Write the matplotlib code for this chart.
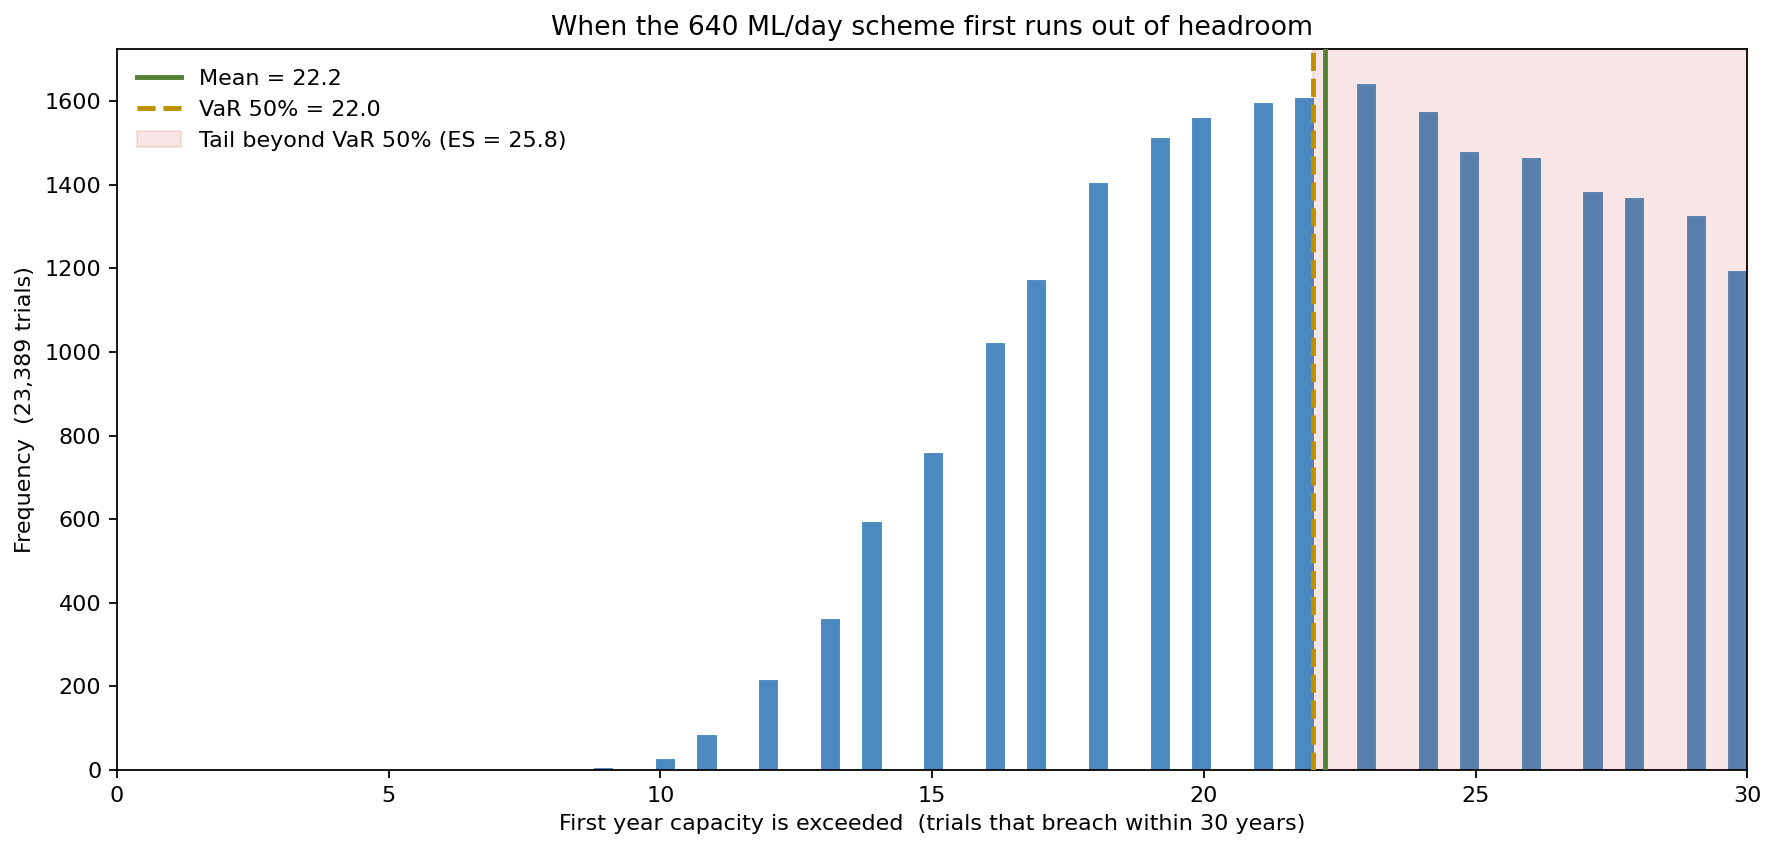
import numpy as np
import matplotlib
matplotlib.use("Agg")
import matplotlib.pyplot as plt

# first breach year (integer) and number of trials breaching in that year
years = [9, 10, 11, 12, 13, 14, 15, 16, 17, 18, 19, 20,
         21, 22, 23, 24, 25, 26, 27, 28, 29, 30]
counts = [7, 29, 85, 218, 364, 595, 760, 1023, 1175, 1406, 1513, 1561,
          1598, 1610, 1643, 1577, 1481, 1467, 1384, 1370, 1327, 1197]
n_trials = 23389
capacity = 640
horizon = 30

years_arr = np.array(years, dtype=float)
counts_arr = np.array(counts, dtype=float)

mean = np.sum(years_arr * counts_arr) / counts_arr.sum()
cum = np.cumsum(counts_arr) / counts_arr.sum()
var50 = years_arr[np.searchsorted(cum, 0.5)]
tail = years_arr >= var50
es = np.sum(years_arr[tail] * counts_arr[tail]) / counts_arr[tail].sum()

dpi = 160
fig, ax = plt.subplots(figsize=(1778 / dpi, 850 / dpi), dpi=dpi)
fig.subplots_adjust(left=0.0657, right=0.9828, top=0.9426, bottom=0.0941)

bins = np.linspace(8, horizon, 59)
ax.hist(years_arr, bins=bins, weights=counts_arr, color="#4b89c0",
        edgecolor="white", linewidth=0.5)

ax.axvline(mean, color="#548235", lw=2.2, label="Mean = %.1f" % mean, zorder=4)
ax.axvline(var50, color="#bf8f00", lw=2.2, ls="--",
           label="VaR 50%% = %.1f" % var50, zorder=3)
ax.axvspan(var50, horizon, color="#c0392b", alpha=0.12,
           label="Tail beyond VaR 50%% (ES = %.1f)" % es, zorder=2)

ax.set_xlim(0, horizon)
ax.set_title("When the %d ML/day scheme first runs out of headroom" % capacity)
ax.set_xlabel("First year capacity is exceeded  (trials that breach within %d years)" % horizon)
ax.set_ylabel("Frequency  (%s trials)" % format(n_trials, ","))
ax.legend(loc="upper left", frameon=False)

fig.savefig("out.png", dpi=dpi)
